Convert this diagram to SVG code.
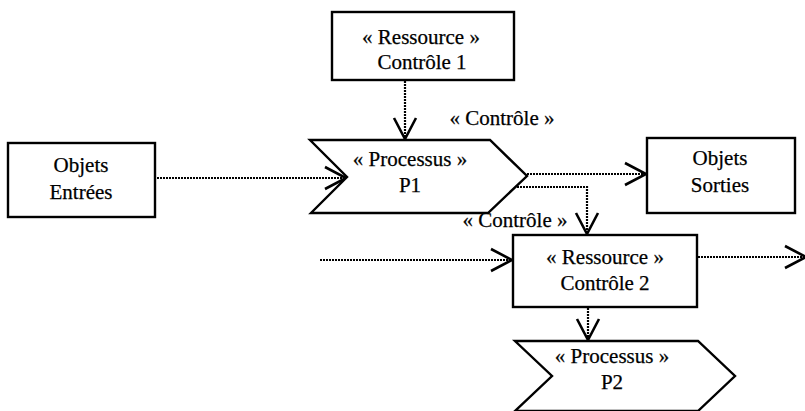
<svg xmlns="http://www.w3.org/2000/svg" width="805" height="411" viewBox="0 0 805 411">
<style>
.box{fill:#fff;stroke:#000;stroke-width:2.4}
.t{font-family:"Liberation Serif","Times New Roman",serif;font-size:21px;fill:#000;stroke:#000;stroke-width:0.25;text-anchor:middle}
.c{fill:none;stroke:#000;stroke-width:2.2;stroke-dasharray:2 1}
</style>
<defs>
<marker id="arr" markerUnits="userSpaceOnUse" markerWidth="28" markerHeight="30" viewBox="-25 -15 28 30" refX="0" refY="0" orient="auto" overflow="visible">
<path d="M-21,-11 L0,0 L-21,11" fill="none" stroke="#000" stroke-width="2.6"/>
</marker>
</defs>
<rect width="805" height="411" fill="#fff"/>
<g id="connectors">
<path class="c" d="M157,178 L346,178" marker-end="url(#arr)"/>
<path class="c" d="M405,81 L405,139" marker-end="url(#arr)"/>
<path class="c" d="M527,174 L646,174" marker-end="url(#arr)"/>
<path class="c" d="M517,187 L587,187 L587,234" marker-end="url(#arr)"/>
<path class="c" d="M320,260 L512,260" marker-end="url(#arr)"/>
<path class="c" d="M698,257 L806,257" marker-end="url(#arr)"/>
<path class="c" d="M588,308 L588,340" marker-end="url(#arr)"/>
<text class="t" x="502" y="125">« Contrôle »</text>
<text class="t" x="515" y="227">« Contrôle »</text>
</g>
<g id="ressource1">
<rect class="box" x="332" y="12" width="182" height="68"/>
<text class="t" x="421" y="44">« Ressource »</text>
<text class="t" x="422" y="69">Contrôle 1</text>
</g>
<g id="entrees">
<rect class="box" x="8" y="143" width="147" height="74"/>
<text class="t" x="81" y="172">Objets</text>
<text class="t" x="81" y="199">Entrées</text>
</g>
<g id="p1">
<path class="box" d="M310,140 L490,140 L527,176 L488,213 L311,213 L347,177 Z"/>
<text class="t" x="410" y="166">« Processus »</text>
<text class="t" x="410" y="192">P1</text>
</g>
<g id="sorties">
<rect class="box" x="647" y="138" width="148" height="75"/>
<text class="t" x="720" y="165">Objets</text>
<text class="t" x="720" y="192">Sorties</text>
</g>
<g id="ressource2">
<rect class="box" x="513" y="235" width="184" height="72"/>
<text class="t" x="605" y="264">« Ressource »</text>
<text class="t" x="605" y="290">Contrôle 2</text>
</g>
<g id="p2">
<path class="box" d="M515,341 L698,341 L735,376 L698,411 L515,411 L552,376 Z"/>
<text class="t" x="612" y="363">« Processus »</text>
<text class="t" x="612" y="389">P2</text>
</g>
</svg>
